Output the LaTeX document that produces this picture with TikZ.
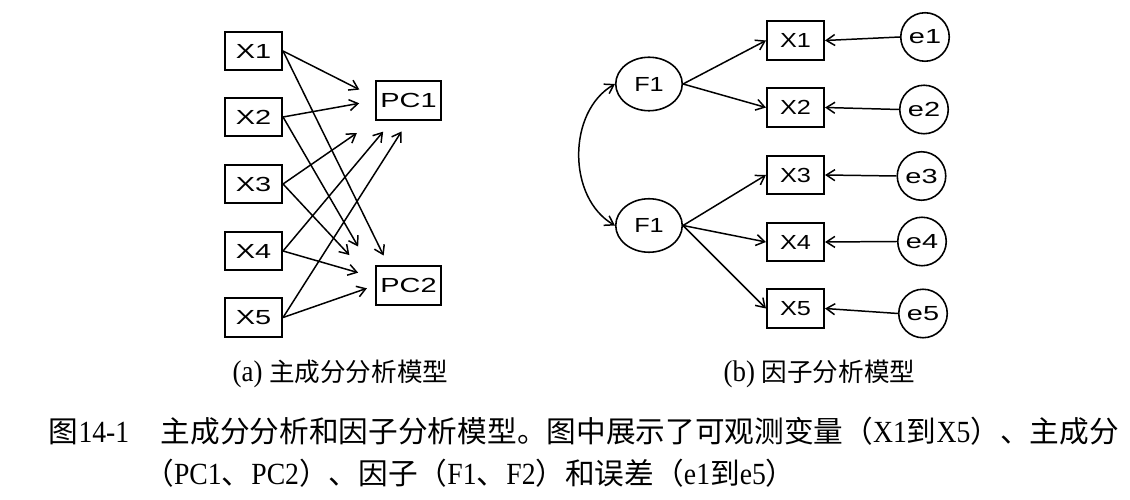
\documentclass[tikz,border=0pt]{standalone}
\usepackage{fontspec}
\setmainfont[FakeStretch=0.9]{Liberation Serif}
\newfontfamily\cjk[Scale=0.965]{Noto Sans CJK SC}
\newfontfamily\cjksub[Scale=0.857]{Noto Sans CJK SC}
\newfontfamily\boxfont[FakeStretch=1.42]{Liberation Sans}
\newfontfamily\nodefont[FakeStretch=1.24]{Liberation Sans}
\usetikzlibrary{arrows.meta, shapes.geometric}

\begin{document}
\begin{tikzpicture}[
box/.style = {draw, line width=0.9pt, minimum width=1.15cm, minimum height=0.77cm, inner sep=0pt, font=\boxfont\fontsize{11.6pt}{13pt}\selectfont},
pcbox/.style = {box, minimum width=1.31cm},
obsbox/.style = {box, font=\nodefont\fontsize{11.6pt}{13pt}\selectfont},
factor/.style = {ellipse, draw, line width=0.9pt, minimum width=1.33cm, minimum height=1.07cm, inner sep=0pt, font=\nodefont\fontsize{11.6pt}{13pt}\selectfont},
err/.style = {circle, draw, line width=0.9pt, minimum size=0.97cm, inner sep=0pt, font=\boxfont\fontsize{11.6pt}{13pt}\selectfont},
tip/.style = {Straight Barb[length=1.7mm, width=2.2mm]},
arr/.style = {-{Straight Barb[length=1.7mm, width=2.2mm]}, line width=0.85pt},
caption/.style = {inner sep=0pt, font=\fontsize{17.5pt}{21pt}\selectfont},
subcaption/.style = {inner sep=0pt, font=\fontsize{17pt}{20pt}\selectfont}
                        ]
%page size
\useasboundingbox (0,0) rectangle (22.6,-10);

% (a) observed variables and components
\foreach \i/\y in {1/-1.02, 2/-2.34, 3/-3.68, 4/-5.02, 5/-6.35}
{
    \node[box] (lx\i) at (5.07,\y) {X\i};
}
\node[pcbox] (pc1) at (8.17,-2.01) {PC1};
\node[pcbox] (pc2) at (8.17,-5.71) {PC2};

% arrows to PC1
\draw[arr, shorten >=0.35cm] (lx1.east) -- ([yshift=0.06cm]pc1.west);
\draw[arr, shorten >=0.32cm] (lx2.east) -- (pc1.west);
\draw[arr, shorten >=0.44cm] (lx3.east) -- (pc1.south west);
\draw[arr, shorten >=0.29cm] (lx4.east) -- ([xshift=-0.32cm]pc1.south);
\draw[arr, shorten >=0.26cm] (lx5.east) -- (pc1.south);

% arrows to PC2
\draw[arr, shorten >=0.22cm] (lx1.east) -- ([xshift=-0.4cm]pc2.north);
\draw[arr, shorten >=0.67cm] (lx2.east) -- ([yshift=0.2cm]pc2.west);
\draw[arr, shorten >=0.75cm] (lx3.east) -- ([yshift=0.06cm]pc2.west);
\draw[arr, shorten >=0.35cm] (lx4.east) -- ([yshift=0.16cm]pc2.west);
\draw[arr, shorten >=0.17cm] (lx5.east) -- (pc2.west);

% (b) factors, observed variables and errors
\node[factor] (fac1) at (12.98,-1.68) {F1};
\node[factor] (fac2) at (12.98,-4.51) {F1};

\foreach \i/\y in {1/-0.81, 2/-2.15, 3/-3.5, 4/-4.84, 5/-6.17}
{
    \node[obsbox] (rx\i) at (15.91,\y) {X\i};
}
\foreach \i/\x/\y in {1/18.5/-0.74, 2/18.48/-2.19, 3/18.43/-3.52, 4/18.44/-4.83, 5/18.46/-6.27}
{
    \node[err] (e\i) at (\x,\y) {e\i};
}

% loadings
\draw[arr] (fac1.east) -- (rx1.west);
\draw[arr] (fac1.east) -- (rx2.west);
\draw[arr] (fac2.east) -- (rx3.west);
\draw[arr] (fac2.east) -- (rx4.west);
\draw[arr] (fac2.east) -- (rx5.west);

% errors
\foreach \i in {1,...,5}
{
    \draw[arr] (e\i.west) -- (rx\i.east);
}

% correlation of factors
\draw[arr, {Straight Barb[length=1.7mm, width=2.2mm]}-{Straight Barb[length=1.7mm, width=2.2mm]}] (fac1.west) to[bend right=60] (fac2.west);

% captions
\node[subcaption, anchor=base] (suba) at (6.81,-7.63) {(a) {\cjksub 主成分分析模型}};
\node[subcaption, anchor=base] (subb) at (16.39,-7.63) {(b) {\cjksub 因子分析模型}};

\node[caption, anchor=base west] (cap1) at (0.97,-8.86) {{\cjk 图}14-1\hspace{18pt}{\cjk 主成分分析和因子分析模型。图中展示了可观测变量（}X1{\cjk 到}X5{\cjk ）、主成分}};
\node[caption, anchor=base west] (cap2) at (2.88,-9.7) {{\cjk （}PC1{\cjk 、}PC2{\cjk ）、因子（}F1{\cjk 、}F2{\cjk ）和误差（}e1{\cjk 到}e5{\cjk ）}};

\end{tikzpicture}
\end{document}
